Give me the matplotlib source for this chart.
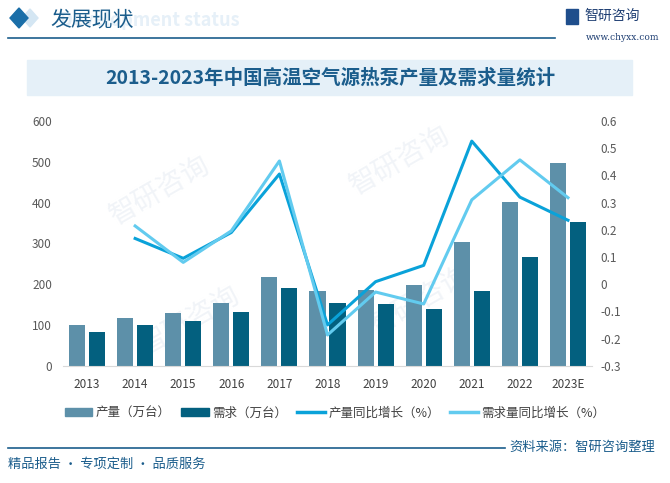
import numpy as np
import matplotlib
matplotlib.use("Agg")
from matplotlib import pyplot as plt
from matplotlib.patches import Rectangle, Patch
from matplotlib.lines import Line2D

plt.rcParams['font.family'] = ['Noto Sans CJK SC', 'DejaVu Sans']

years = ['2013', '2014', '2015', '2016', '2017', '2018', '2019', '2020', '2021', '2022', '2023E']
output = [100, 117, 129, 154, 217, 183, 186, 198, 303, 401, 497]
demand = [83, 100, 110, 132, 191, 154, 151, 139, 183, 267, 352]
output_growth = [np.nan, 0.168, 0.095, 0.190, 0.405, -0.150, 0.009, 0.069, 0.526, 0.320, 0.235]
demand_growth = [np.nan, 0.214, 0.080, 0.196, 0.453, -0.187, -0.029, -0.073, 0.310, 0.457, 0.318]

c_out = '#5d90a9'
c_dem = '#03607f'
c_out_g = '#0aa2d9'
c_dem_g = '#62cbef'
dark = '#1b5d8c'

fig = plt.figure(figsize=(6.7, 4.83), dpi=100)
W, H = 670, 483


def fx(px):
    return px / W


def fy(py):
    return 1 - py / H


# faint watermarks behind everything
for (x, y) in [(160, 190), (400, 160), (190, 320), (420, 300)]:
    fig.text(fx(x), fy(y), '智研咨询', fontsize=20, color='#f1f4f8', rotation=30,
             ha='center', va='center', zorder=-5)

# header
fig.patches.append(plt.Polygon([[fx(22), fy(18)], [fx(30), fy(9)], [fx(38), fy(18)], [fx(30), fy(27)]],
                               closed=True, color='#d4e6f3', transform=fig.transFigure, zorder=1))
fig.patches.append(plt.Polygon([[fx(10), fy(18)], [fx(19), fy(8)], [fx(28), fy(18)], [fx(19), fy(28)]],
                               closed=True, color='#1a6ea8', transform=fig.transFigure, zorder=2))
fig.text(fx(150), fy(20), 'Development status', fontsize=13, color='#e6f0f8', fontweight='bold',
         ha='center', va='center', zorder=1)
fig.text(fx(50), fy(19), '发展现状', fontsize=15, color=dark, ha='left', va='center', zorder=2)
fig.add_artist(Line2D([fx(8), fx(555)], [fy(38), fy(38)], color=dark, lw=1.2))
fig.patches.append(Rectangle((fx(566), fy(24)), fx(12), 15 / H, color='#1f4e8c',
                             transform=fig.transFigure))
fig.text(fx(584), fy(16), '智研咨询', fontsize=10, color='#1f3f73', ha='left', va='center')
fig.text(fx(586), fy(38), 'www.chyxx.com', fontsize=6.5, color='#1f3f73', ha='left', va='center',
         family='DejaVu Serif')

# title band
fig.patches.append(Rectangle((fx(27), fy(95)), fx(605), 35 / H, color='#e5f0f8',
                             transform=fig.transFigure, zorder=1))
fig.text(fx(330), fy(78), '2013-2023年中国高温空气源热泵产量及需求量统计', fontsize=14,
         fontweight='bold', color=dark, ha='center', va='center', zorder=2)

ax = fig.add_axes([fx(63), fy(365.7), fx(529), (365.7 - 121) / H])
ax.set_facecolor('none')
ax.set_zorder(3)
x = np.arange(len(years))
bw = 0.333
ax.bar(x - 0.208, output, bw, color=c_out, zorder=2)
ax.bar(x + 0.208, demand, bw, color=c_dem, zorder=2)
ax.set_xlim(-0.5, len(years) - 0.5)
ax.set_ylim(0, 600)
ax.set_yticks(np.arange(0, 601, 100))
ax.set_xticks(x)
ax.set_xticklabels(years)
for s in ['top', 'left', 'right']:
    ax.spines[s].set_visible(False)
ax.spines['bottom'].set_color('#d9d9d9')
ax.tick_params(axis='both', length=0, labelsize=8.5, colors='#595959')
ax.tick_params(axis='x', pad=9, colors='#404040')
ax.tick_params(axis='y', pad=8)

ax2 = ax.twinx()
ax2.set_zorder(4)
ax2.plot(x, output_growth, color=c_out_g, lw=2.2, zorder=3)
ax2.plot(x, demand_growth, color=c_dem_g, lw=2.2, zorder=3)
ax2.set_ylim(-0.3, 0.6)
rt = np.round(np.arange(-0.3, 0.61, 0.1), 1)
ax2.set_yticks(rt)
ax2.set_yticklabels([f'{v:g}' for v in rt])
for s in ax2.spines.values():
    s.set_visible(False)
ax2.tick_params(axis='y', length=0, labelsize=8.5, colors='#595959', pad=6)

handles = [Patch(color=c_out), Patch(color=c_dem),
           Line2D([0], [0], color=c_out_g, lw=2.5), Line2D([0], [0], color=c_dem_g, lw=2.5)]
labels = ['产量（万台）', '需求（万台）', '产量同比增长（%）', '需求量同比增长（%）']
leg = fig.legend(handles, labels, loc='center', bbox_to_anchor=(fx(335), fy(413)), ncol=4,
                 frameon=False, fontsize=9, handlelength=2.2, handleheight=0.6,
                 columnspacing=0.8, handletextpad=0.3)
for t in leg.get_texts():
    t.set_color('#404040')

# footer
fig.add_artist(Line2D([fx(8), fx(505)], [fy(448), fy(448)], color=dark, lw=1.2))
fig.text(fx(655), fy(447), '资料来源：智研咨询整理', fontsize=9.5, color=dark, ha='right', va='center')
fig.text(fx(8), fy(464), '精品报告 · 专项定制 · 品质服务', fontsize=9.5, color=dark, ha='left', va='center')

fig.savefig('out.png', dpi=100)
